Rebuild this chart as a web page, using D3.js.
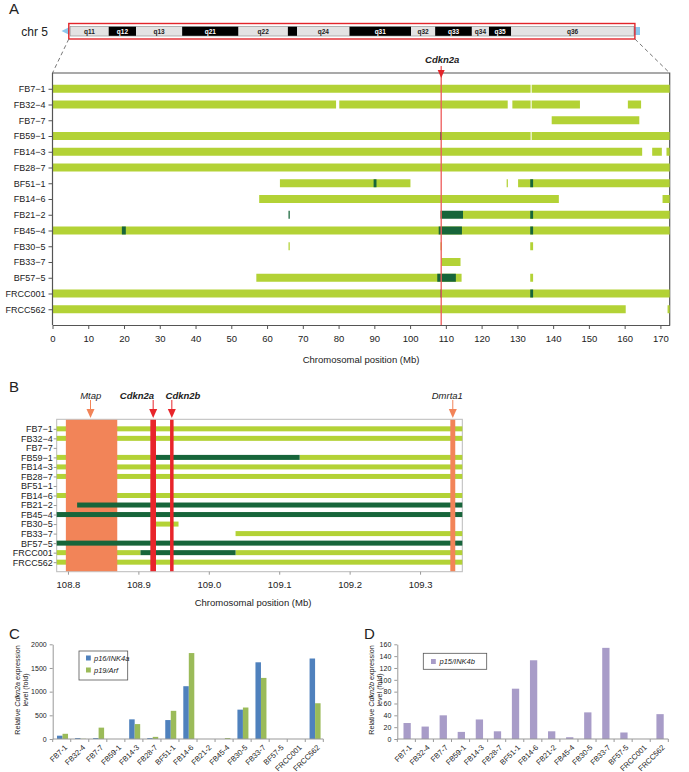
<!DOCTYPE html>
<html><head><meta charset="utf-8">
<script src="https://cdn.jsdelivr.net/npm/d3@7"></script>
<style>
body{margin:0;background:#fff;}
svg{display:block;font-family:"Liberation Sans",Arial,sans-serif;}
</style></head>
<body><svg id="c" width="689" height="772"></svg>
<script>
// ---------- DATA ----------
const rows = ["FB7\u22121","FB32\u22124","FB7\u22127","FB59\u22121","FB14\u22123","FB28\u22127","BF51\u22121","FB14\u22126","FB21\u22122","FB45\u22124","FB30\u22125","FB33\u22127","BF57\u22125","FRCC001","FRCC562"];
const samples = ["FB7-1","FB32-4","FB7-7","FB59-1","FB14-3","FB28-7","BF51-1","FB14-6","FB21-2","FB45-4","FB30-5","FB33-7","BF57-5","FRCC001","FRCC562"];

// ideogram bands (Mb along chr5)
const bandNames  = ["q11","q12","q13","q21","q22","","q24","q31","q32","q33","q34","q35","q36"];
const bandStarts = [0,10.4,17.8,30.2,45.4,58.7,61.2,75.3,91.9,98.4,108.3,112.9,118.9];
const bandEnds   = [10.4,17.8,30.2,45.4,58.7,61.2,75.3,91.9,98.4,108.3,112.9,118.9,152];
const bandDark   = [0,1,0,1,0,1,0,1,0,1,0,1,0];

// panel A segments: [rowIndex, startMb, endMb, kind]  L = light, D = dark
const segA = [
 [0,0,133.7,"L"],[0,134.0,172.6,"L"],
 [1,0,79.3,"L"],[1,80.2,127.3,"L"],[1,128.6,133.7,"L"],[1,134.0,147.5,"L"],[1,160.9,164.6,"L"],
 [2,139.6,164.1,"L"],
 [3,0,133.7,"L"],[3,134.0,172.6,"L"],[3,108.4,108.9,"D"],
 [4,0,164.9,"L"],[4,167.7,170.4,"L"],[4,171.7,172.6,"L"],
 [5,0,172.6,"L"],
 [6,63.6,100.1,"L"],[6,127.0,127.35,"L"],[6,130.2,172.6,"L"],[6,89.8,90.6,"D"],[6,133.6,134.4,"D"],
 [7,57.8,141.6,"L"],[7,170.6,172.6,"L"],
 [8,66.0,66.35,"D"],[8,108.5,114.8,"D"],[8,114.8,172.6,"L"],[8,133.6,134.4,"D"],
 [9,0,172.6,"L"],[9,19.4,20.5,"D"],[9,108.0,114.5,"D"],[9,133.6,134.4,"D"],
 [10,66.0,66.35,"L"],[10,108.5,108.9,"L"],[10,133.6,134.4,"L"],
 [11,108.7,114.1,"L"],
 [12,57.0,114.4,"L"],[12,107.6,112.8,"D"],[12,133.6,134.4,"L"],
 [13,0,172.6,"L"],[13,108.5,108.9,"D"],[13,133.6,134.4,"D"],
 [14,0,160.3,"L"],[14,172.0,172.6,"L"]
];
const ticksA = [0,10,20,30,40,50,60,70,80,90,100,110,120,130,140,150,160,170];
const cdkn2aA = 108.7;

// panel B segments
const segB = [
 [0,108.784,109.36,"L"],[1,108.784,109.36,"L"],
 [3,108.784,108.921,"L"],[3,108.921,109.129,"D"],[3,109.129,109.36,"L"],
 [4,108.784,109.36,"L"],[5,108.784,109.36,"L"],[7,108.784,109.36,"L"],
 [8,108.813,109.36,"D"],[9,108.784,109.36,"D"],
 [10,108.921,108.957,"L"],[11,109.038,109.36,"L"],[12,108.784,109.36,"D"],
 [13,108.784,108.903,"L"],[13,108.903,109.038,"D"],[13,109.038,109.36,"L"],
 [14,108.784,109.36,"L"]
];
const ticksB = [108.8,108.9,109.0,109.1,109.2,109.3];
const genesB = ["Mtap","Cdkn2a","Cdkn2b","Dmrta1"];
const geneStartB = [108.797,108.917,108.945,109.343];
const geneEndB   = [108.870,108.925,108.950,109.350];
const geneMarkB  = [108.832,108.921,108.9475,109.3465];

// panel C
const p16 = [70,20,20,0,415,20,400,1115,0,0,620,1620,0,0,1700];
const p19 = [110,5,240,0,315,45,595,1815,0,20,665,1290,0,0,755];
const ticksC = [0,500,1000,1500,2000];
// panel D
const p15 = [27,21,40,12,33,13,85,133,13,3,45,154,11,0,42];
const ticksD = [0,20,40,60,80,100,120,140,160];

// ---------- DRAW ----------
const svg = d3.select("#c");
const LIGHT = "#b3d236", DARK = "#17653a";

// Panel letters
[["A",9,14],["B",9,392],["C",9,639],["D",364,639]].forEach(([t,x,y])=>
  svg.append("text").attr("x",x).attr("y",y).attr("font-size",15).attr("fill","#222").text(t));

// ===== Panel A =====
const xA = d3.scaleLinear().domain([0,172.6]).range([52.5,669.7]);
const yA = d3.scalePoint().domain(d3.range(rows.length)).range([73,325]).padding(1);
const xI = d3.scaleLinear().domain([0,152]).range([70.1,634]);

// ideogram
const gI = svg.append("g");
gI.append("text").attr("x",48).attr("y",35.5).attr("text-anchor","end").attr("font-size",12).attr("fill","#222").text("chr 5");
gI.append("path").attr("d","M61.5,31 L69.5,27 L69.5,35 Z").attr("fill","#8cc8ee");
gI.append("rect").attr("x",634).attr("y",27).attr("width",6).attr("height",8).attr("fill","#8cc8ee");
gI.selectAll("rect.band").data(bandNames).join("rect").attr("class","band")
  .attr("x",(d,i)=>xI(bandStarts[i])).attr("width",(d,i)=>xI(bandEnds[i])-xI(bandStarts[i]))
  .attr("y",26.5).attr("height",9.5)
  .attr("fill",(d,i)=>bandDark[i]?"#000":"#e3e3e3");
gI.append("rect").attr("x",xI(0)).attr("y",26.5).attr("width",xI(152)-xI(0)).attr("height",9.5)
  .attr("fill","none").attr("stroke","#888").attr("stroke-width",0.6);
gI.selectAll("text.bl").data(bandNames).join("text").attr("class","bl")
  .attr("x",(d,i)=>(xI(bandStarts[i])+xI(bandEnds[i]))/2).attr("y",33.6)
  .attr("text-anchor","middle").attr("font-size",6.5).attr("font-weight","bold")
  .attr("fill",(d,i)=>bandDark[i]?"#fff":"#222").text(d=>d);
gI.append("rect").attr("x",68.8).attr("y",23.5).attr("width",634.9-68.8).attr("height",15.5)
  .attr("fill","none").attr("stroke","#e2252b").attr("stroke-width",1.4);
gI.append("line").attr("x1",68.8).attr("y1",39).attr("x2",52.5).attr("y2",73)
  .attr("stroke","#777").attr("stroke-dasharray","4,3");
gI.append("line").attr("x1",634.9).attr("y1",39).attr("x2",669.7).attr("y2",73)
  .attr("stroke","#777").attr("stroke-dasharray","4,3");

const gA = svg.append("g");
gA.append("path").attr("d",`M${xA(0)},73 H${xA(172.6)} V325`).attr("fill","none").attr("stroke","#555").attr("stroke-width",1.2);
const segSorted = segA.slice().sort((a,b)=>(a[3]==="D")-(b[3]==="D"));
gA.selectAll("rect.seg").data(segSorted).join("rect").attr("class","seg")
  .attr("x",d=>xA(d[1])).attr("width",d=>Math.max(0.8,xA(d[2])-xA(d[1])))
  .attr("y",d=>yA(d[0])-4).attr("height",8)
  .attr("fill",d=>d[3]==="D"?DARK:LIGHT);
gA.append("line").attr("x1",xA(cdkn2aA)).attr("x2",xA(cdkn2aA)).attr("y1",66).attr("y2",325)
  .attr("stroke","#ee5a5a").attr("stroke-width",1.3);
gA.append("path").attr("d",`M${xA(cdkn2aA)-3.5},70 L${xA(cdkn2aA)+3.5},70 L${xA(cdkn2aA)},78 Z`).attr("fill","#e2252b");
gA.append("text").attr("x",xA(cdkn2aA)+1).attr("y",63).attr("text-anchor","middle")
  .attr("font-size",9.5).attr("font-weight","bold").attr("font-style","italic").attr("fill","#222").text("Cdkn2a");
const axL = gA.append("g").attr("transform",`translate(${xA(0)},0)`)
  .call(d3.axisLeft(yA).tickSize(4).tickFormat(i=>rows[i]));
axL.select(".domain").attr("d","M0,73 V325").attr("stroke","#555").attr("stroke-width",1.2);
axL.selectAll("line").attr("stroke","#555");
axL.selectAll("text").attr("font-size",9).attr("fill","#222").attr("font-family","Liberation Sans, Arial");
const axB = gA.append("g").attr("transform","translate(0,325)")
  .call(d3.axisBottom(xA).tickValues(ticksA).tickSize(4).tickSizeOuter(0));
axB.select(".domain").attr("stroke","#555").attr("stroke-width",1.2);
axB.selectAll("line").attr("stroke","#555");
axB.selectAll("text").attr("font-size",9.5).attr("fill","#222").attr("dy","1em").attr("font-family","Liberation Sans, Arial");
gA.append("text").attr("x",361).attr("y",363).attr("text-anchor","middle").attr("font-size",9.5).attr("fill","#222").text("Chromosomal position (Mb)");

// ===== Panel B =====
const xB = d3.scaleLinear().domain([108.784,109.36]).range([56.7,462.3]);
const yB = d3.scalePoint().domain(d3.range(rows.length)).range([419.3,571.7]).padding(1);
const gB = svg.append("g");
gB.append("rect").attr("x",56.7).attr("y",419.3).attr("width",462.3-56.7).attr("height",571.7-419.3)
  .attr("fill","none").attr("stroke","#bbb").attr("stroke-width",1);
const geneCol = ["#f28458","#e8252b","#e8252b","#f28458"];
const drawSegs = (kind)=> gB.selectAll(null).data(segB.filter(d=>d[3]===kind)).join("rect")
  .attr("x",d=>xB(d[1])).attr("width",d=>xB(d[2])-xB(d[1]))
  .attr("y",d=>yB(d[0])-2.5).attr("height",5)
  .attr("fill",kind==="D"?DARK:LIGHT);
drawSegs("L");
// Mtap region
gB.append("rect").attr("x",xB(geneStartB[0])).attr("width",xB(geneEndB[0])-xB(geneStartB[0]))
  .attr("y",419.8).attr("height",571.7-419.8-0.5).attr("fill",geneCol[0]);
drawSegs("D");
// gene bands on top
gB.selectAll("rect.gene").data(genesB.slice(1)).join("rect").attr("class","gene")
  .attr("x",(d,i)=>xB(geneStartB[i+1])).attr("width",(d,i)=>xB(geneEndB[i+1])-xB(geneStartB[i+1]))
  .attr("y",419.8).attr("height",571.7-419.8-0.5)
  .attr("fill",(d,i)=>geneCol[i+1]);
gB.selectAll("path.arr").data(genesB).join("path").attr("class","arr")
  .attr("d",(d,i)=>{const x=xB(geneMarkB[i]);return `M${x-4},409 L${x+4},409 L${x},418 Z`;})
  .attr("fill",(d,i)=>geneCol[i]);
gB.selectAll("line.stem").data(genesB).join("line").attr("class","stem")
  .attr("x1",(d,i)=>xB(geneMarkB[i])).attr("x2",(d,i)=>xB(geneMarkB[i]))
  .attr("y1",400).attr("y2",410).attr("stroke",(d,i)=>geneCol[i]).attr("stroke-width",1);
const geneLabelX = [90.7,137,183,447.3];
gB.selectAll("text.gl").data(genesB).join("text").attr("class","gl")
  .attr("x",(d,i)=>geneLabelX[i]).attr("y",399).attr("text-anchor","middle")
  .attr("font-size",9.5).attr("font-style","italic")
  .attr("font-weight",(d,i)=>(i===1||i===2)?"bold":"normal").attr("fill","#222").text(d=>d);
const axLB = gB.append("g").attr("transform","translate(56.7,0)")
  .call(d3.axisLeft(yB).tickSize(3).tickFormat(i=>rows[i]));
axLB.select(".domain").remove();
axLB.selectAll("line").attr("stroke","#999");
axLB.selectAll("text").attr("font-size",9).attr("fill","#222").attr("x",-4).attr("font-family","Liberation Sans, Arial");
const axBB = gB.append("g").attr("transform","translate(0,571.7)")
  .call(d3.axisBottom(xB).tickValues(ticksB).tickSize(3).tickSizeOuter(0).tickFormat(d3.format(".1f")));
axBB.select(".domain").remove();
axBB.selectAll("line").attr("stroke","#999");
axBB.selectAll("text").attr("font-size",9.5).attr("fill","#222").attr("dy","1.1em").attr("font-family","Liberation Sans, Arial");
gB.append("text").attr("x",253).attr("y",606).attr("text-anchor","middle").attr("font-size",9.5).attr("fill","#222").text("Chromosomal position (Mb)");

// ===== Panels C & D =====
function barPanel(g, x0, x1, yMax, ticks, series, colors, barW) {
  const x = d3.scaleBand().domain(samples).range([x0,x1]);
  const y = d3.scaleLinear().domain([0,yMax]).range([739,644.3]);
  const sub = d3.scaleBand().domain(d3.range(series.length)).range([0,barW*series.length]);
  series.forEach((vals,k)=>{
    g.selectAll(null).data(samples).join("rect")
      .attr("x",(d,i)=>x(d)+x.bandwidth()/2-barW*series.length/2+sub(k)+0.8)
      .attr("width",barW).attr("y",(d,i)=>y(vals[i])).attr("height",(d,i)=>739-y(vals[i]))
      .attr("fill",colors[k]);
  });
  const ay = g.append("g").attr("transform",`translate(${x0},0)`)
    .call(d3.axisLeft(y).tickValues(ticks).tickSize(3).tickSizeOuter(0).tickFormat(d3.format("d")));
  ay.select(".domain").attr("stroke","#999");
  ay.selectAll("line").attr("stroke","#999");
  ay.selectAll("text").attr("font-size",7).attr("fill","#222").attr("font-family","Liberation Sans, Arial");
  const ax = g.append("g").attr("transform","translate(0,739)");
  ax.append("line").attr("x1",x0).attr("x2",x1).attr("stroke","#999");
  ax.selectAll("line.tk").data(samples.concat(["_end"])).join("line").attr("class","tk")
    .attr("x1",(d,i)=>x0+i*x.step()).attr("x2",(d,i)=>x0+i*x.step()).attr("y1",0).attr("y2",3).attr("stroke","#999");
  ax.selectAll("text").data(samples).join("text")
    .attr("transform",d=>`translate(${x(d)+x.bandwidth()/2+3},6) rotate(-45)`)
    .attr("text-anchor","end").attr("dy","0.55em").attr("font-size",7.6).attr("fill","#222").text(d=>d);
  return {x,y};
}
const gC = svg.append("g");
barPanel(gC,52.7,323.3,2000,ticksC,[p16,p19],["#4f81bd","#9bbb59"],5.5);
const lc = gC.append("g");
lc.append("rect").attr("x",79).attr("y",651).attr("width",48.7).attr("height",29).attr("fill","#fff").attr("stroke","#555").attr("stroke-width",0.8);
lc.append("rect").attr("x",86).attr("y",655.5).attr("width",4.8).attr("height",5).attr("fill","#4f81bd");
lc.append("rect").attr("x",86).attr("y",667.5).attr("width",4.8).attr("height",5).attr("fill","#9bbb59");
lc.append("text").attr("x",94).attr("y",660.8).attr("font-size",7.5).attr("font-style","italic").attr("fill","#222").text("p16/INK4a");
lc.append("text").attr("x",94).attr("y",672.8).attr("font-size",7.5).attr("font-style","italic").attr("fill","#222").text("p19/Arf");
const tc = gC.append("text").attr("transform","translate(20,690) rotate(-90)").attr("text-anchor","middle").attr("font-size",7.2).attr("fill","#222");
tc.append("tspan").attr("x",0).attr("dy",0).text("Relative ");
tc.append("tspan").attr("font-style","italic").text("Cdkn2a");
tc.append("tspan").text("  expression");
tc.append("tspan").attr("x",0).attr("dy","1.15em").text("level (fold)");

const gD = svg.append("g");
barPanel(gD,397.3,668.3,160,ticksD,[p15],["#a89cc8"],7.3);
const ld = gD.append("g");
ld.append("rect").attr("x",423.3).attr("y",653.3).attr("width",63.4).attr("height",16).attr("fill","#fff").attr("stroke","#555").attr("stroke-width",0.8);
ld.append("rect").attr("x",431).attr("y",659).attr("width",4.8).attr("height",5).attr("fill","#a89cc8");
ld.append("text").attr("x",439.5).attr("y",664.3).attr("font-size",7.5).attr("font-style","italic").attr("fill","#222").text("p15/INK4b");
const td = gD.append("text").attr("transform","translate(374,690) rotate(-90)").attr("text-anchor","middle").attr("font-size",7.2).attr("fill","#222");
td.append("tspan").attr("x",0).attr("dy",0).text("Relative ");
td.append("tspan").attr("font-style","italic").text("Cdkn2b");
td.append("tspan").text("  expression");
td.append("tspan").attr("x",0).attr("dy","1.15em").text("level (fold)");
</script></body></html>
